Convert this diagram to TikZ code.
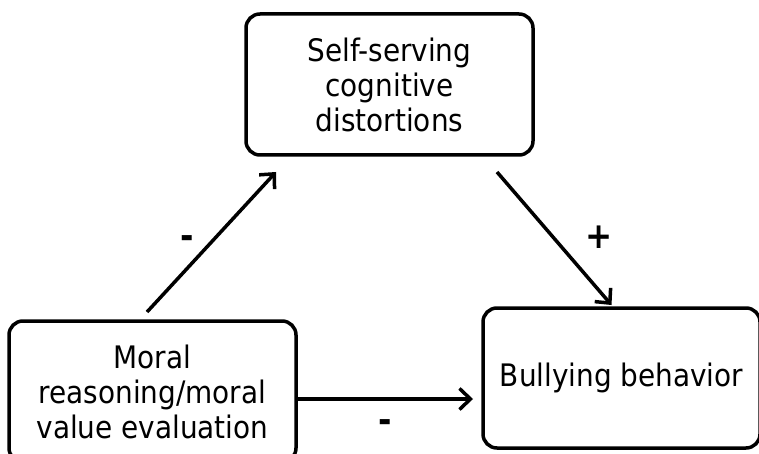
\documentclass[tikz,border=0pt]{standalone}
\usepackage{fontspec}
\setmainfont{DejaVu Sans Condensed}
\usetikzlibrary{arrows.meta}
\begin{document}
\begin{tikzpicture}[x=1pt,y=-1pt,
  box/.style={draw,line width=3.5pt,rounded corners=14pt,outer sep=0pt,inner sep=0pt,align=center,
    font=\fontsize{31}{35}\selectfont},
  arr/.style={line width=3.5pt,-{Straight Barb[length=11pt,width=21pt]}},
  sign/.style={inner sep=0pt,font=\bfseries\fontsize{36}{36}\selectfont}]
\useasboundingbox (0,0) rectangle (759,454);
\fill[white] (0,0) rectangle (759,454);
\node[box,minimum width=287pt,minimum height=141pt] (T) at (389.5,84.5) {Self-serving\\cognitive\\distortions};
\node[box,minimum width=287pt,minimum height=141pt] (L) at (152.5,391.5) {Moral\\reasoning/moral\\value evaluation};
\node[box,minimum width=277pt,minimum height=140pt] (R) at (621.5,378) {Bullying behavior};
\draw[arr] ([xshift=-5.5pt,yshift=9pt]L.north) -- ([xshift=-113.5pt,yshift=-17pt]T.south);
\draw[arr] ([xshift=107.5pt,yshift=-17pt]T.south) -- ([xshift=-10pt,yshift=3pt]R.north);
\draw[arr] ([xshift=2pt,yshift=-7.5pt]L.east) -- ([xshift=-10pt,yshift=-21pt]R.west);
\node[sign] (m1) at (187,242) {-};
\node[sign] (p1) at (599,237) {+};
\node[sign] (m2) at (385,426) {-};
\end{tikzpicture}
\end{document}
